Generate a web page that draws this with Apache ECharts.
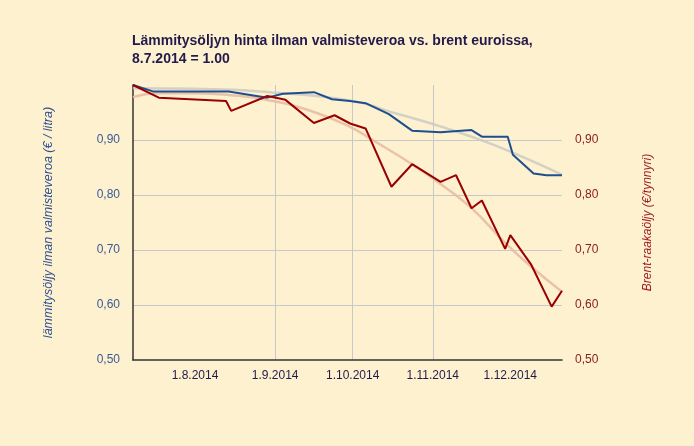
<!DOCTYPE html>
<html>
<head>
<meta charset="utf-8">
<script src="https://cdn.jsdelivr.net/npm/echarts@6/dist/echarts.min.js"></script>
<style>
html,body{margin:0;padding:0;background:#fef1d0;}
#c{width:694px;height:446px;}
</style>
</head>
<body>
<div id="c"></div>
<script>
// Heating oil price (excl. excise tax), index 8.7.2014 = 1.00
const oilDates = ['2014-07-08','2014-07-16','2014-08-14','2014-08-29','2014-09-04','2014-09-16','2014-09-23','2014-09-30','2014-10-06','2014-10-15','2014-10-24','2014-11-04','2014-11-16','2014-11-20','2014-11-30','2014-12-02','2014-12-10','2014-12-15','2014-12-21'];
const oilValues = [1.000,0.988,0.988,0.977,0.984,0.987,0.974,0.971,0.967,0.947,0.917,0.914,0.918,0.906,0.906,0.873,0.839,0.836,0.836];
// Brent crude in euros, index
const brentDates = ['2014-07-08','2014-07-18','2014-08-13','2014-08-15','2014-08-29','2014-09-05','2014-09-16','2014-09-24','2014-09-30','2014-10-06','2014-10-16','2014-10-24','2014-11-04','2014-11-10','2014-11-16','2014-11-20','2014-11-29','2014-12-01','2014-12-09','2014-12-17','2014-12-21'];
const brentValues = [1.000,0.977,0.971,0.953,0.980,0.973,0.931,0.945,0.930,0.921,0.815,0.856,0.824,0.836,0.776,0.790,0.702,0.727,0.674,0.597,0.626];
// Trendlines
const oilTrendDates = ['2014-07-08','2014-08-01','2014-09-01','2014-10-01','2014-10-15','2014-11-01','2014-11-16','2014-12-01','2014-12-21'];
const oilTrendValues = [0.994,0.993,0.986,0.971,0.952,0.929,0.906,0.879,0.837];
const brentTrendDates = ['2014-07-08','2014-07-18','2014-08-01','2014-08-14','2014-08-30','2014-09-16','2014-09-30','2014-10-08','2014-10-24','2014-11-04','2014-11-16','2014-11-29','2014-12-09','2014-12-21'];
const brentTrendValues = [0.978,0.985,0.985,0.982,0.972,0.951,0.924,0.902,0.856,0.820,0.776,0.713,0.670,0.624];
// X axis ticks
const xTickDates = ['2014-08-01','2014-09-01','2014-10-01','2014-11-01','2014-12-01'];
const xTickLabels = ['1.8.2014','1.9.2014','1.10.2014','1.11.2014','1.12.2014'];
const xMin = '2014-07-08', xMax = '2014-12-21';

const ts = s => Date.UTC(+s.slice(0,4), +s.slice(5,7) - 1, +s.slice(8,10));
const zip = (d, v) => d.map((x, i) => [ts(x), v[i]]);
const tickTs = xTickDates.map(ts);

const chart = echarts.init(document.getElementById('c'));
const fontFamily = '"Liberation Sans", Arial, sans-serif';
const yFmt = v => v.toFixed(2).replace('.', ',');

chart.setOption({
  backgroundColor: '#fef1d0',
  animation: false,
  title: {
    text: 'Lämmitysöljyn hinta ilman valmisteveroa vs. brent euroissa,\n8.7.2014 = 1.00',
    left: 127, top: 27,
    textStyle: { fontFamily, fontSize: 14, fontWeight: 'bold', color: '#221a4a', lineHeight: 18 }
  },
  grid: { left: 133, right: 132, top: 85, bottom: 86 },
  xAxis: {
    type: 'value',
    min: ts(xMin), max: ts(xMax),
    axisLine: { show: true, onZero: false, lineStyle: { color: '#333333', width: 1.5 } },
    axisTick: { show: false, customValues: tickTs },
    axisLabel: {
      customValues: tickTs,
      formatter: v => { const i = tickTs.indexOf(+v); return i >= 0 ? xTickLabels[i] : ''; },
      color: '#221a4a', fontFamily, fontSize: 12, margin: 10
    },
    splitLine: { show: true, showMinLine: false, showMaxLine: false, lineStyle: { color: '#c8c8c8', width: 1 } }
  },
  yAxis: [
    {
      type: 'value', min: 0.5, max: 1.0, interval: 0.1, position: 'left',
      name: 'lämmitysöljy ilman valmisteveroa (€ / litra)',
      nameLocation: 'middle', nameGap: 78, nameRotate: 90,
      nameTextStyle: { fontFamily, fontSize: 12.5, fontStyle: 'italic', color: '#2e5090' },
      axisLine: { show: true, lineStyle: { color: '#333333', width: 1.5 } },
      axisTick: { show: false },
      axisLabel: { formatter: yFmt, color: '#3a5a95', fontFamily, fontSize: 12, margin: 13, showMaxLabel: false },
      splitLine: { show: true, showMaxLine: false, showMinLine: false, lineStyle: { color: '#c8c8c8', width: 1 } }
    },
    {
      type: 'value', min: 0.5, max: 1.0, interval: 0.1, position: 'right',
      name: 'Brent-raakaöljy (€/tynnyri)',
      nameLocation: 'middle', nameGap: 80, nameRotate: 90,
      nameTextStyle: { fontFamily, fontSize: 12, fontStyle: 'italic', color: '#9b1c1c' },
      axisLine: { show: false },
      axisTick: { show: false },
      axisLabel: { formatter: yFmt, color: '#8b1a1a', fontFamily, fontSize: 12, margin: 13, showMaxLabel: false },
      splitLine: { show: false }
    }
  ],
  series: [
    {
      name: 'oilTrend', type: 'line', yAxisIndex: 0, smooth: true, showSymbol: false,
      data: zip(oilTrendDates, oilTrendValues),
      lineStyle: { color: '#c8c8c0', width: 2.5, opacity: 0.8 }, silent: true
    },
    {
      name: 'brentTrend', type: 'line', yAxisIndex: 1, smooth: true, showSymbol: false,
      data: zip(brentTrendDates, brentTrendValues),
      lineStyle: { color: '#e8bca4', width: 2.5, opacity: 0.9 }, silent: true
    },
    {
      name: 'Lämmitysöljy', type: 'line', yAxisIndex: 0, showSymbol: false,
      data: zip(oilDates, oilValues),
      lineStyle: { color: '#1f4e8f', width: 2 }
    },
    {
      name: 'Brent', type: 'line', yAxisIndex: 1, showSymbol: false,
      data: zip(brentDates, brentValues),
      lineStyle: { color: '#990000', width: 2 }
    }
  ]
});
</script>
</body>
</html>
